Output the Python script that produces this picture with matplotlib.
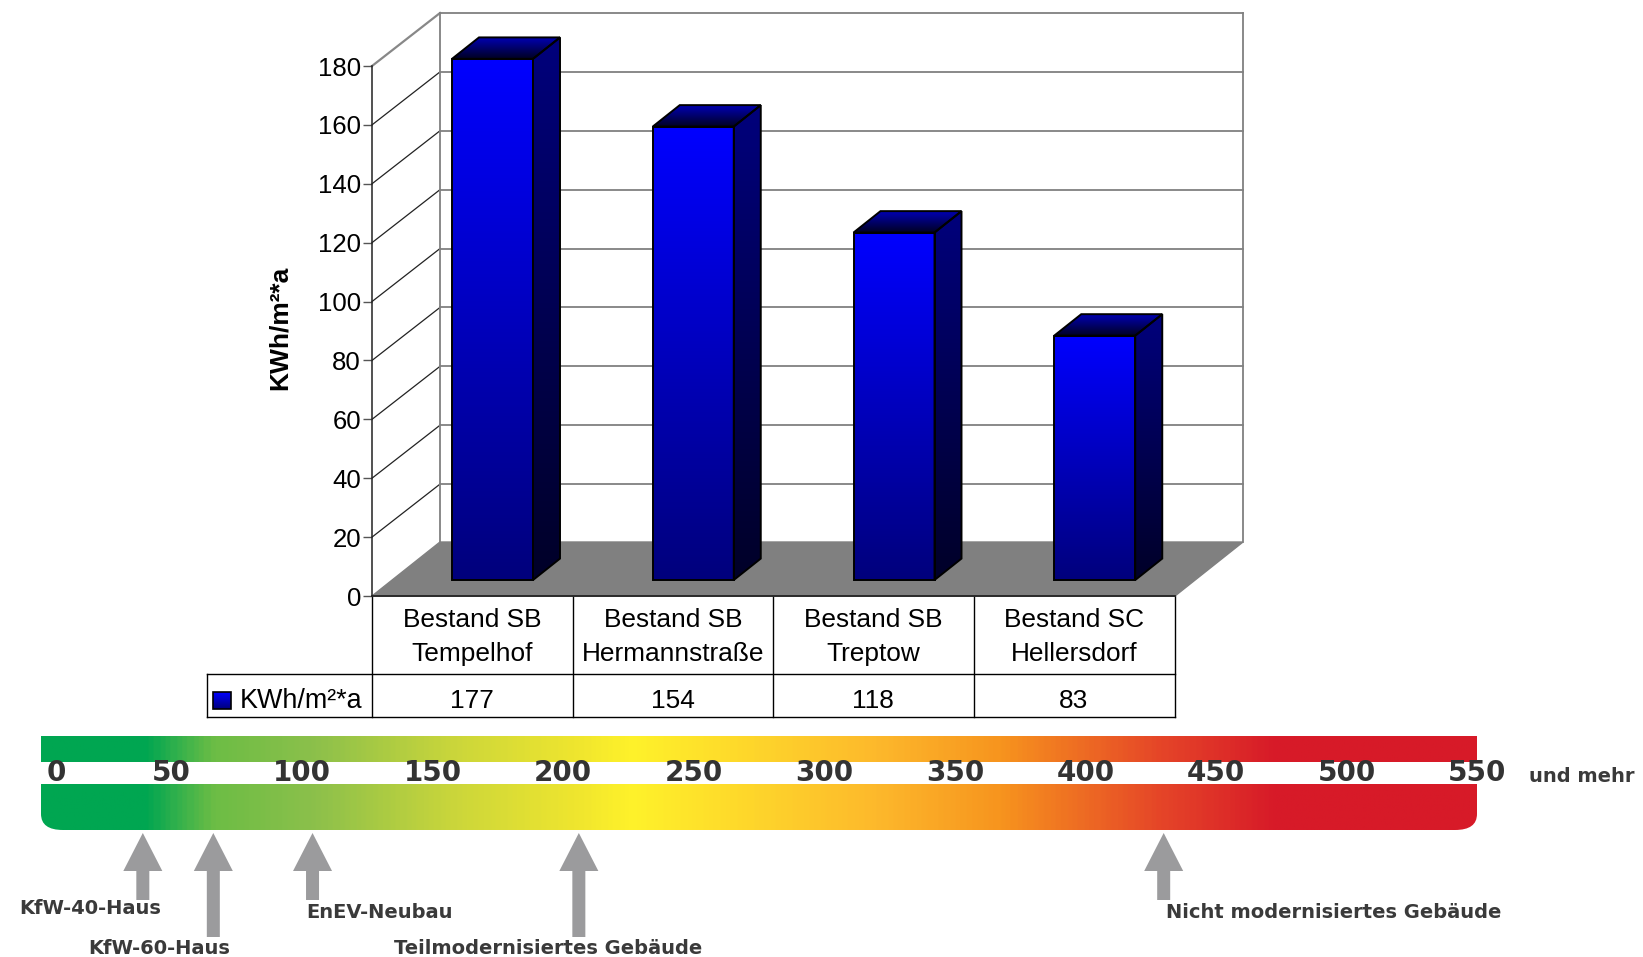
import numpy as np
import matplotlib
matplotlib.use('Agg')
import matplotlib.pyplot as plt
from matplotlib.colors import LinearSegmentedColormap
from matplotlib.patches import Polygon, PathPatch, Rectangle
from matplotlib.path import Path

plt.rcParams['font.family'] = ['Liberation Sans', 'DejaVu Sans']

# energy use of the four buildings
categories = [['Bestand SB', 'Tempelhof'], ['Bestand SB', 'Hermannstraße'],
              ['Bestand SB', 'Treptow'], ['Bestand SC', 'Hellersdorf']]
values = [177, 154, 118, 83]
series_name = 'KWh/m²*a'
y_ticks = [0, 20, 40, 60, 80, 100, 120, 140, 160, 180]

# energy scale below the chart
scale_ticks = [0, 50, 100, 150, 200, 250, 300, 350, 400, 450, 500, 550]
scale_stops = [0, 39, 65, 104, 160, 206, 226, 320, 368, 430, 474, 550]
scale_colors = ['#00a651', '#00a651', '#6cbd45', '#8cc04b', '#cdd73a', '#f0e62e', '#fff22a', '#fdb92c',
                '#f7941e', '#e54528', '#d71a28', '#d71a28']
marker_values = [39, 66, 104, 206, 430]
marker_bottoms = [900, 937, 900, 937, 900]
marker_names = ['KfW-40-Haus', 'KfW-60-Haus', 'EnEV-Neubau', 'Teilmodernisiertes Gebäude', 'Nicht modernisiertes Gebäude']
marker_text_x = [90, 159, 379, 548, 1334]
marker_text_y = [909, 948, 913, 948, 913]

W, H = 1643, 957
fig = plt.figure(figsize=(W / 100, H / 100), dpi=100)


def place(left, top, right, bottom):
    return fig.add_axes([left / W, 1 - bottom / H, (right - left) / W, (bottom - top) / H])


page = place(0, 0, W, H)
page.set_xlim(0, W)
page.set_ylim(H, 0)
page.axis('off')

ax = place(372, 66, 1175, 596)
ax.set_xlim(0, 4)
ax.set_ylim(0, 180)
ax.patch.set_visible(False)
for s in ['top', 'right', 'bottom']:
    ax.spines[s].set_visible(False)
ax.spines['left'].set_color('#222222')
ax.spines['left'].set_linewidth(1.1)
ax.set_xticks([])
ax.set_yticks(y_ticks)
ax.tick_params(axis='y', length=6.5, width=1, color='#555555', labelsize=18.5, pad=1.5)

# depth of the plot box, in data units
DX = 68 / (803 / 4)
DY = 54 / (530 / 180)
GRID_DY = 53 / (530 / 180)
WALL = '#808080'

ax.add_patch(Polygon([(0, 0), (DX, DY), (4 + DX, DY), (4, 0)], fc=WALL, ec=WALL, lw=1, clip_on=False, zorder=1))
for t in y_ticks[1:]:
    color, lw = ('#888888', 1.6) if t == 180 else ('#222222', 0.9)
    ax.plot([0, DX], [t, t + GRID_DY], color=color, lw=lw, clip_on=False, zorder=1)
    ax.plot([DX, 4 + DX], [t + GRID_DY, t + GRID_DY], color='#808080', lw=1.3, clip_on=False, zorder=1)
ax.plot([DX, DX], [DY, 180 + GRID_DY], color='#808080', lw=1.3, clip_on=False, zorder=1)
ax.plot([4 + DX, 4 + DX], [DY, 180 + GRID_DY], color='#808080', lw=1.3, clip_on=False, zorder=1)
ax.plot([0, 4], [0, 0], color='#222222', lw=1.3, clip_on=False, zorder=2)


def shaded(pts, top_color, bottom_color, z):
    # polygon filled with a vertical gradient, black outline on top
    pts = np.array(pts)
    cmap = LinearSegmentedColormap.from_list('face', [bottom_color, top_color])
    im = ax.imshow(np.linspace(1, 0, 200).reshape(-1, 1), cmap=cmap, vmin=0, vmax=1, aspect='auto', zorder=z,
                   extent=[pts[:, 0].min(), pts[:, 0].max(), pts[:, 1].min(), pts[:, 1].max()])
    im.set_clip_box(fig.bbox)
    im.set_clip_path(Polygon(pts, transform=ax.transData))
    ax.add_patch(Polygon(pts, fc='none', ec='black', lw=1.4, clip_on=False, zorder=z + 0.5))


bar_w = 81 / (803 / 4)
d0, d1 = 0.296, 0.693
for i, v in enumerate(values):
    x0 = i + 0.5 - bar_w / 2 + d0 * DX
    x1 = x0 + bar_w
    b0, t0 = d0 * DY, v + d0 * DY
    step_x, step_y = (d1 - d0) * DX, (d1 - d0) * DY
    shaded([(x0, b0), (x1, b0), (x1, t0), (x0, t0)], '#0000ff', '#00007c', 4)
    shaded([(x1, b0), (x1 + step_x, b0 + step_y), (x1 + step_x, t0 + step_y), (x1, t0)], '#00007c', '#000028', 4)
    shaded([(x0, t0), (x1, t0), (x1 + step_x, t0 + step_y), (x0 + step_x, t0 + step_y)], '#0000b4', '#000020', 4)
ax.set_xlim(0, 4)
ax.set_ylim(0, 180)

ax.text(-0.46, 91, series_name, rotation=90, fontsize=19, fontweight='bold', ha='center', va='center', clip_on=False)

# data table under the chart
col_x = [372, 572.5, 773, 973.5, 1174.5]
page.plot([372, 372], [596, 717], color='black', lw=1)
page.plot([207, 1174.5], [674, 674], color='black', lw=1)
page.plot([207, 1174.5], [717, 717], color='black', lw=1)
page.plot([207, 207], [674, 717], color='black', lw=1)
for x in col_x[1:]:
    page.plot([x, x], [596, 717], color='black', lw=1)
for i in range(4):
    cx = (col_x[i] + col_x[i + 1]) / 2
    page.text(cx, 620, categories[i][0], fontsize=18.9, ha='center', va='center')
    page.text(cx, 654, categories[i][1], fontsize=18.9, ha='center', va='center')
    page.text(cx, 701, str(values[i]), fontsize=18.9, ha='center', va='center')
swatch = LinearSegmentedColormap.from_list('swatch', ['#00007c', '#0000ff'])
page.imshow(np.linspace(1, 0, 50).reshape(-1, 1), cmap=swatch, aspect='auto', extent=[213, 231, 709, 692], zorder=3)
page.add_patch(Rectangle((213, 692), 18, 17, fc='none', ec='black', lw=1.2, zorder=4))
page.text(240, 701, series_name, fontsize=19.4, ha='left', va='center')
page.set_xlim(0, W)
page.set_ylim(H, 0)

# energy scale: y is in pixels from the top of the figure
sc = place(41, 736, 1477, 830)
sc.set_xlim(0, 550)
sc.set_ylim(830, 736)
sc.axis('off')
cm = LinearSegmentedColormap.from_list('energy', [(s / 550, c) for s, c in zip(scale_stops, scale_colors)])
im = sc.imshow(np.linspace(0, 1, 600).reshape(1, -1), cmap=cm, vmin=0, vmax=1, aspect='auto', extent=[0, 550, 830, 736])
rx, ry = 22 * 550 / 1436, 16
outline = Path([(0, 736), (550, 736), (550, 830 - ry), (550, 830), (550 - rx, 830), (rx, 830), (0, 830), (0, 830 - ry), (0, 736)],
               [Path.MOVETO, Path.LINETO, Path.LINETO, Path.CURVE3, Path.CURVE3, Path.LINETO, Path.CURVE3, Path.CURVE3, Path.CLOSEPOLY])
im.set_clip_path(PathPatch(outline, transform=sc.transData))
sc.add_patch(Rectangle((-1, 762), 552, 22, fc='white', ec='none', zorder=2))
for t in scale_ticks:
    sc.text(t + (5.7 if t == 0 else 0), 773, str(t), fontsize=20, fontweight='bold', family='DejaVu Sans', color='#333333',
            ha='center', va='center', zorder=3, clip_on=False)
sc.set_xlim(0, 550)
sc.set_ylim(830, 736)

# arrows pointing at the scale
hw = 19.5 * 550 / 1436
sw = 6.5 * 550 / 1436
for v, bot in zip(marker_values, marker_bottoms):
    sc.add_patch(Polygon([(v, 833), (v + hw, 871), (v + sw, 871), (v + sw, bot), (v - sw, bot), (v - sw, 871), (v - hw, 871)],
                         fc='#9b9b9d', ec='none', clip_on=False))
for name, x, y in zip(marker_names, marker_text_x, marker_text_y):
    page.text(x, y, name, fontsize=14, fontweight='bold', family='DejaVu Sans', color='#3a3a3a', ha='center', va='center', zorder=5)
page.text(1582, 777, 'und mehr', fontsize=14, fontweight='bold', family='DejaVu Sans', color='#3a3a3a', ha='center', va='center', zorder=5)

fig.savefig('out.png', dpi=100)
